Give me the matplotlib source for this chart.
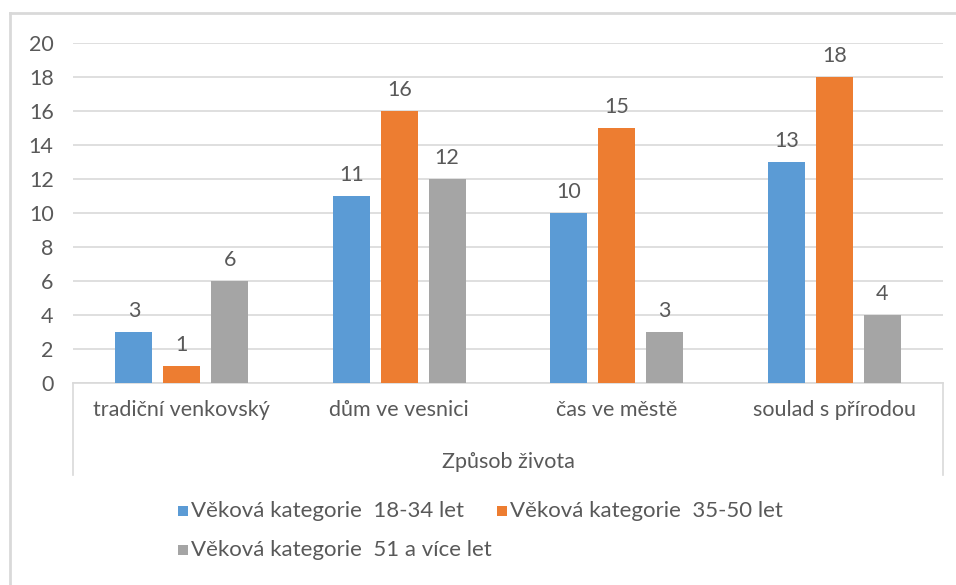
import matplotlib
matplotlib.use("Agg")
import matplotlib.pyplot as plt
import numpy as np
from matplotlib.lines import Line2D
from matplotlib.patches import Rectangle

plt.rcParams['font.family'] = ['Lato', 'DejaVu Sans']

categories = ["tradiční venkovský", "dům ve vesnici", "čas ve městě", "soulad s přírodou"]
series_names = ["Věková kategorie  18-34 let", "Věková kategorie  35-50 let", "Věková kategorie  51 a více let"]
values_18_34 = [3, 11, 10, 13]
values_35_50 = [1, 16, 15, 18]
values_51 = [6, 12, 3, 4]
colors = ["#5B9BD5", "#ED7D31", "#A5A5A5"]
y_ticks = [0, 2, 4, 6, 8, 10, 12, 14, 16, 18, 20]
axis_title = "Způsob života"

W, H = 956, 585
fig = plt.figure(figsize=(W / 100, H / 100), dpi=100)
fig.patch.set_facecolor("white")

ax_l, ax_r = 73 / W, 943 / W
ax_b, ax_t = 1 - 383 / H, 1 - 43 / H
ax = fig.add_axes([ax_l, ax_b, ax_r - ax_l, ax_t - ax_b])

x = np.arange(len(categories))
bw = 0.17
step = 0.22
series = [values_18_34, values_35_50, values_51]
text_col = "#595959"
fs = 15.5
for i, (vals, col) in enumerate(zip(series, colors)):
    pos = x + (i - 1) * step
    ax.bar(pos, vals, width=bw, color=col, zorder=3)
    for p, v in zip(pos, vals):
        ax.annotate(str(v), (p, v), xytext=(0, 8), textcoords="offset points",
                    ha="center", va="bottom", fontsize=fs, color=text_col)

ax.set_xlim(-0.5, len(categories) - 0.5)
ax.set_ylim(0, 20)
ax.set_yticks(y_ticks)
ax.yaxis.grid(True, color="#D9D9D9", linewidth=1.2, zorder=0)
ax.tick_params(axis="y", length=0, pad=14, labelsize=fs, labelcolor=text_col)
ax.set_xticks(x)
ax.set_xticklabels(categories)
ax.tick_params(axis="x", length=0, pad=12, labelsize=fs, labelcolor=text_col)
for s in ["top", "right", "left"]:
    ax.spines[s].set_visible(False)
ax.spines["bottom"].set_color("#D9D9D9")
ax.spines["bottom"].set_linewidth(1.2)

def fx(px):
    return px / W
def fy(py):
    return 1 - py / H

# category box lines
for xp in [73, 943]:
    fig.add_artist(Line2D([fx(xp), fx(xp)], [fy(383), fy(475)], color="#D9D9D9", linewidth=1.2))

fig.text((73 + 943) / 2 / W, fy(462), axis_title, ha="center", va="center", fontsize=fs, color=text_col)

# outer chart frame (top & left)
fig.add_artist(Line2D([fx(10), fx(956)], [fy(13), fy(13)], color="#D9D9D9", linewidth=2))
fig.add_artist(Line2D([fx(10), fx(10)], [fy(13), fy(585)], color="#D9D9D9", linewidth=2))

# legend (Excel-style, row-major)
legend_slots = [(178, 511), (497, 511), (178, 550)]
for (px, py), name, col in zip(legend_slots, series_names, colors):
    fig.add_artist(Rectangle((fx(px), fy(py + 5)), 10 / W, 10 / H, facecolor=col,
                             edgecolor="none", transform=fig.transFigure))
    fig.text(fx(px + 13), fy(py), name, ha="left", va="center", fontsize=16, color=text_col)

fig.savefig("out.png", dpi=100, facecolor="white")
